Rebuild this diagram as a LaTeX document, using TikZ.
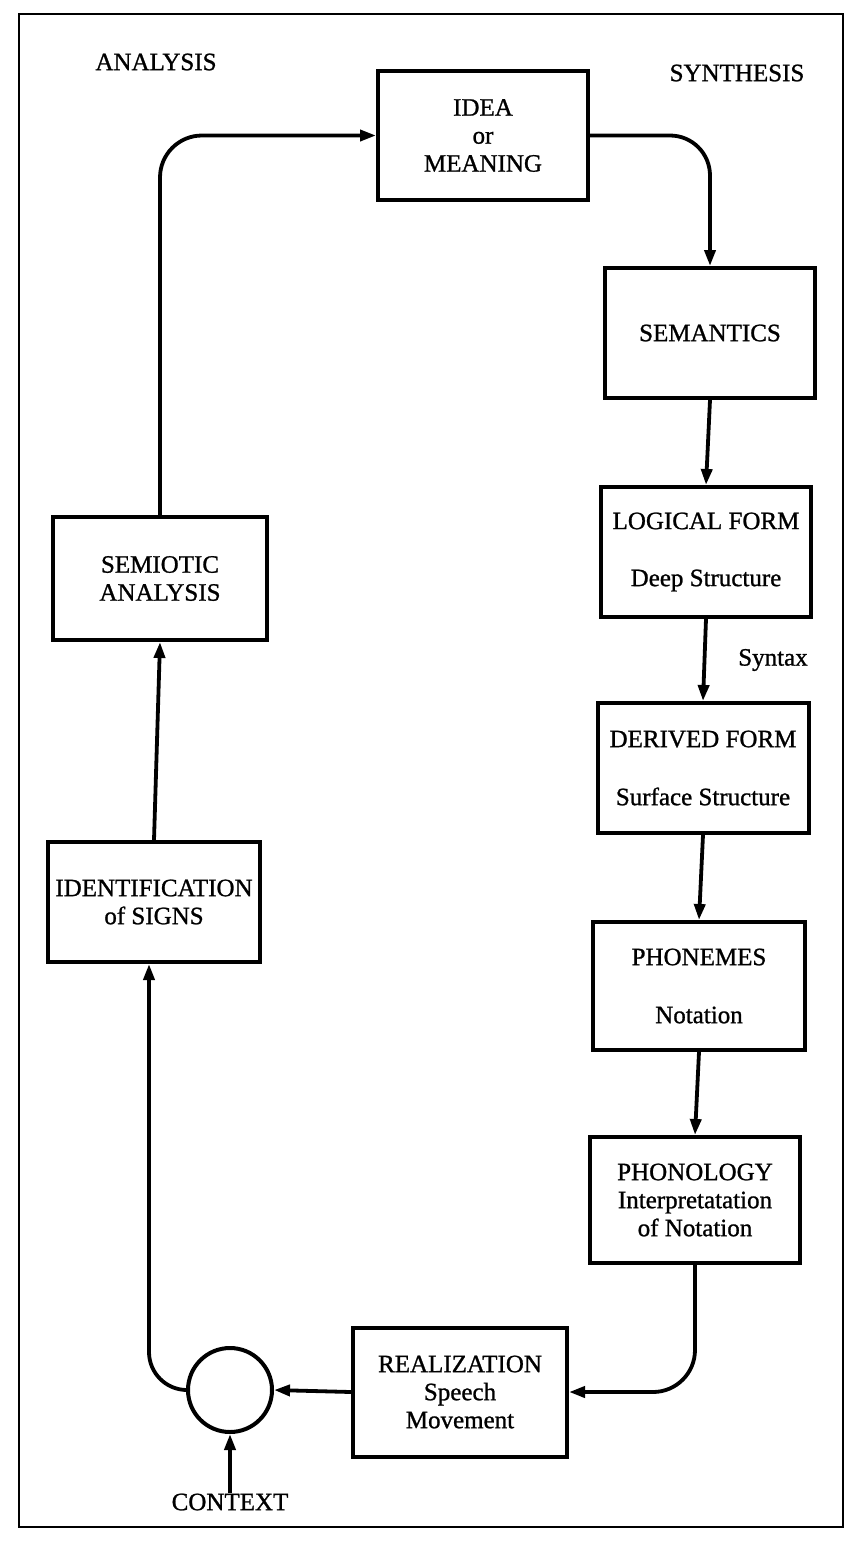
\documentclass[tikz,border=0pt]{standalone}
\usepackage{fontspec}
\setmainfont{Liberation Serif}
\newfontfamily\inkfont[FakeBold=1]{Liberation Serif}
\usetikzlibrary{arrows.meta}
\begin{document}
\begin{tikzpicture}[x=1pt,y=-1pt,
  txt/.style={font=\inkfont\fontsize{25}{28}\selectfont, inner sep=0pt, align=center},
  box/.style={txt, draw, line width=4pt, line join=miter},
  link/.style={line width=3.8pt, -{Triangle[length=16pt,width=11pt]}}]
  \useasboundingbox (0,0) rectangle (854,1542);
  % outer frame
  \draw[line width=1.4pt] (19,14) rectangle (843,1527);

  % headings
  \node[txt] (ana) at (156,62) {ANALYSIS};
  \node[txt] (syn) at (737,73) {SYNTHESIS};

  % synthesis column
  \node[box, minimum width=210pt, minimum height=129pt] (idea) at (483,135.5) {IDEA\\or\\MEANING};
  \node[box, minimum width=210pt, minimum height=130pt] (sem) at (710,333) {SEMANTICS};
  \node[box, minimum width=210pt, minimum height=130pt] (log) at (706,552) {LOGICAL FORM\\[29pt]Deep Structure};
  \node[txt] (syx) at (773,660) {Syntax};
  \node[box, minimum width=211pt, minimum height=130pt] (der) at (703,768) {DERIVED FORM\\[30pt]Surface Structure};
  \node[box, minimum width=212pt, minimum height=128pt] (pho) at (699,986) {PHONEMES\\[30pt]Notation};
  \node[box, minimum width=210pt, minimum height=126pt] (phl) at (695,1200) {PHONOLOGY\\Interpretatation\\of Notation};

  % speech output and the return loop
  \node[box, minimum width=214pt, minimum height=129pt] (real) at (460,1392) {REALIZATION\\Speech\\Movement};
  \node[draw, circle, line width=4pt, minimum size=84pt, inner sep=0pt] (circ) at (230,1390) {};
  \node[txt] (ctx) at (230,1502) {CONTEXT};
  \node[box, minimum width=212pt, minimum height=120pt] (ident) at (154,902) {IDENTIFICATION\\of SIGNS};
  \node[box, minimum width=214pt, minimum height=123pt] (semio) at (160,578.5) {SEMIOTIC\\ANALYSIS};

  % connectors
  \draw[link, rounded corners=42pt] (semio.north) |- (idea.west);
  \draw[link, rounded corners=40pt] (idea.east) -| (sem.north);
  \draw[link] (sem.south) -- (log.north);
  \draw[link] (log.south) -- (der.north);
  \draw[link] (der.south) -- (pho.north);
  \draw[link] (pho.south) -- (phl.north);
  \draw[link, rounded corners=42pt] (phl.south) |- (real.east);
  \draw[link] (real.west) -- (circ.east);
  \draw[link] (ctx.north) -- (circ.south);
  \draw[link, rounded corners=38pt] (circ.west) -| ([xshift=-5pt]ident.south);
  \draw[link] (ident.north) -- (semio.south);
\end{tikzpicture}
\end{document}
